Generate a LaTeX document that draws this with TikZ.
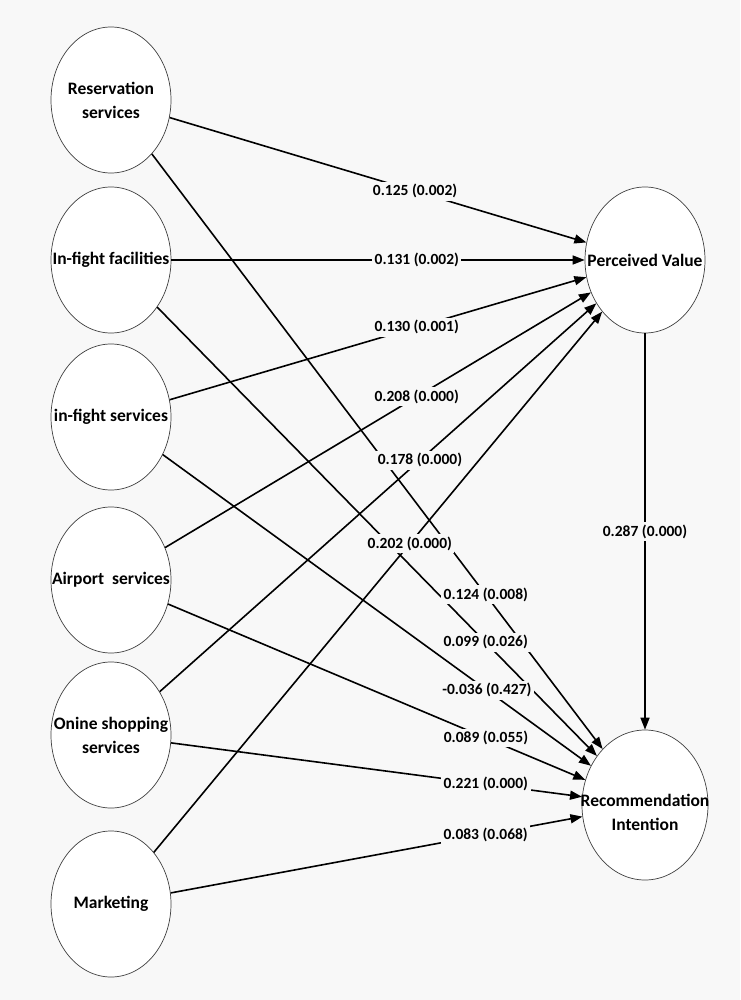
\documentclass[tikz,border=0pt]{standalone}
\usepackage{fontspec}
\setmainfont{Carlito}
\usetikzlibrary{shapes.geometric,arrows.meta}
\definecolor{paper}{RGB}{248,248,248}
\tikzset{
  factor/.style={ellipse,draw=black!75,fill=white,line width=0.7pt,
    minimum width=120pt,minimum height=146pt,inner sep=0pt},
  factortext/.style={align=center,inner sep=0pt,
    font=\bfseries\fontsize{17.5}{24}\selectfont},
  coef/.style={fill=paper,inner sep=2.5pt,font=\bfseries\fontsize{15.5}{18}\selectfont}
}
\def\paths{res/pv/0.589/0.125 (0.002), fac/pv/0.594/0.131 (0.002),
  srv/pv/0.593/0.130 (0.001), air/pv/0.591/0.208 (0.000),
  shop/pv/0.596/0.178 (0.000), mkt/pv/0.571/0.202 (0.000),
  pv/ri/0.501/0.287 (0.000),
  res/ri/0.741/0.124 (0.008), fac/ri/0.747/0.099 (0.026),
  srv/ri/0.757/-0.036 (0.427), air/ri/0.762/0.089 (0.055),
  shop/ri/0.766/0.221 (0.000), mkt/ri/0.765/0.083 (0.068)}
\begin{document}
\begin{tikzpicture}[x=1pt,y=-1pt,line width=1.6pt,
    >={Triangle[length=12pt,width=9pt]}]
  \fill[paper] (0,0) rectangle (740,1000);
  % left column
  \node[factor,label={[factortext]center:Reservation\\services}] (res) at (111,100) {};
  \node[factor,label={[factortext]center:In-fight facilities}] (fac) at (111,260) {};
  \node[factor,label={[factortext]center:in-fight services}] (srv) at (111,417) {};
  \node[factor,label={[factortext]center:Airport\ \ services}] (air) at (111,580) {};
  \node[factor,label={[factortext]center:Onine shopping\\services}] (shop) at (111,735) {};
  \node[factor,label={[factortext]center:Marketing}] (mkt) at (111,904) {};
  % right column
  \node[factor,label={[factortext]center:Perceived Value}] (pv) at (645,260) {};
  \node[factor,minimum width=126pt,minimum height=150pt,
    label={[factortext,yshift=-7pt]center:Recommendation\\Intention}] (ri) at (645,805) {};
  \foreach \a/\b/\p/\t in \paths
    \draw[->] (\a) -- (\b);
  \foreach \a/\b/\p/\t in \paths
    \path (\a) -- node[coef,pos=\p] {\t} (\b);
\end{tikzpicture}
\end{document}
